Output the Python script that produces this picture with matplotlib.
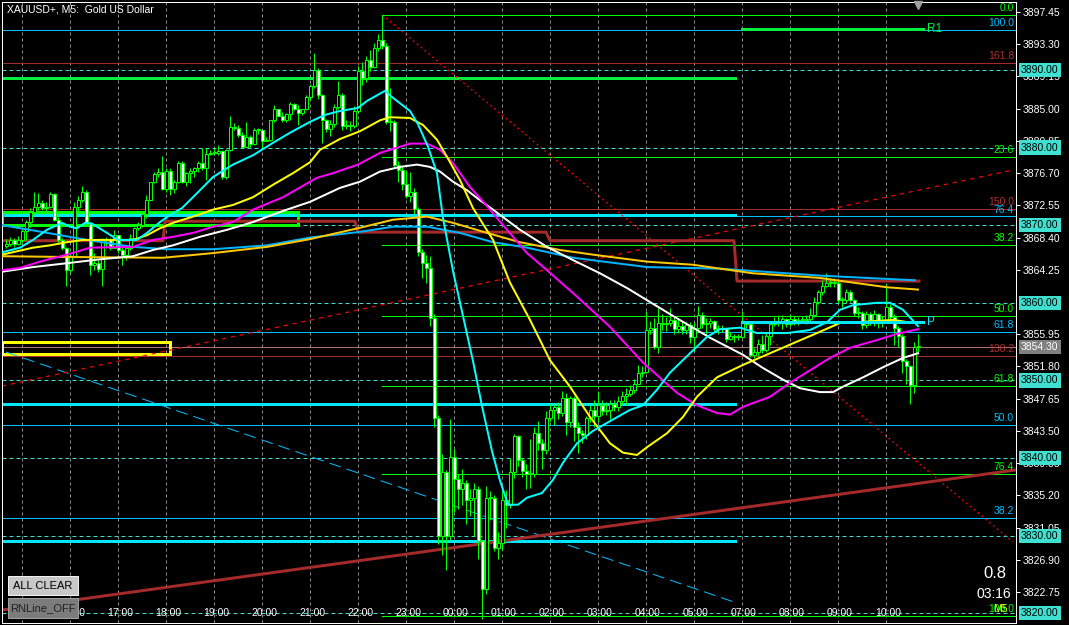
import matplotlib
matplotlib.use("Agg")
import matplotlib.pyplot as plt
import matplotlib.transforms as mtransforms
from matplotlib.patches import Rectangle

plt.rcParams["font.family"] = ["Liberation Sans", "DejaVu Sans"]

# ---- candles (M5), bar 0 = 15:00, first bar = -4 ----
first_bar = -4
first_open = 3867.3
closes = [
    3867.6, 3868.1, 3867.6, 3868.1,
    3869.2, 3870.4, 3871.7, 3872.4, 3872.9, 3872.2, 3872.4, 3874.0, 3870.7, 3868.1,
    3867.0, 3864.2, 3865.9, 3872.4, 3873.3, 3874.3, 3870.2, 3864.9, 3865.1, 3864.3,
    3868.1, 3868.2, 3867.1, 3868.7, 3866.8, 3866.2, 3867.1, 3868.4, 3869.6, 3870.0,
    3871.4, 3873.2, 3875.5, 3876.6, 3876.9, 3874.6, 3877.0, 3874.6, 3875.6, 3878.0,
    3875.6, 3876.7, 3877.0, 3877.4, 3878.0, 3877.4, 3879.2, 3879.3, 3879.3, 3879.5,
    3876.2, 3879.7, 3882.6, 3882.5, 3881.6, 3880.1, 3881.3, 3880.4, 3882.3, 3882.3,
    3880.8, 3881.0, 3883.5, 3884.9, 3884.1, 3883.6, 3884.3, 3885.6, 3885.0, 3884.4,
    3884.9, 3886.5, 3887.9, 3890.0, 3886.7, 3883.5, 3882.4, 3883.0, 3885.2, 3886.7,
    3882.8, 3882.9, 3882.8, 3884.7, 3889.8, 3888.9, 3891.3, 3890.4, 3892.8, 3893.9,
    3893.1, 3883.3, 3883.3, 3877.7, 3877.1, 3875.3, 3873.8, 3874.3, 3872.1, 3866.6,
    3865.1, 3864.5, 3858.1, 3845.2, 3830.0, 3838.2, 3830.0, 3840.2, 3837.3, 3836.0,
    3836.8, 3834.6, 3834.8, 3836.0, 3829.3, 3823.2, 3834.8, 3834.9, 3828.4, 3829.1,
    3834.6, 3834.0, 3838.2, 3842.8, 3839.8, 3838.3, 3838.0, 3838.0, 3843.2, 3841.9,
    3841.0, 3845.1, 3846.2, 3846.6, 3845.8, 3847.7, 3844.7, 3847.7, 3844.0, 3843.2,
    3843.0, 3845.1, 3846.2, 3845.4, 3846.8, 3846.0, 3846.2, 3847.0, 3846.6, 3847.4,
    3848.0, 3848.3, 3848.8, 3849.6, 3850.9, 3851.1, 3856.5, 3856.7, 3854.3, 3857.4,
    3857.3, 3857.4, 3857.8, 3856.6, 3857.0, 3856.5, 3857.1, 3855.6, 3856.8, 3858.4,
    3857.3, 3857.4, 3857.6, 3856.6, 3856.6, 3856.7, 3855.4, 3855.7, 3855.6, 3855.6,
    3857.4, 3857.3, 3853.3, 3853.6, 3854.7, 3853.9, 3855.7, 3857.3, 3857.7, 3857.4,
    3857.9, 3857.3, 3857.9, 3857.7, 3857.8, 3857.8, 3857.9, 3858.4, 3860.1, 3861.4,
    3862.2, 3862.6, 3862.5, 3862.6, 3860.4, 3860.3, 3861.4, 3860.4, 3858.7, 3858.7,
    3857.1, 3858.6, 3857.8, 3858.6, 3857.4, 3857.8, 3859.5, 3858.2, 3856.8, 3855.7,
    3852.5, 3851.8, 3849.4, 3854.3, 3854.3,
]
highs = [
    3868.2, 3868.5, 3868.4, 3868.6,
    3869.6, 3870.7, 3872.2, 3874.3, 3874.1, 3873.2, 3873.0, 3874.3, 3874.1, 3871.1,
    3868.3, 3867.2, 3866.4, 3873.0, 3873.7, 3875.0, 3874.5, 3870.4, 3866.4, 3865.5,
    3868.3, 3868.5, 3868.3, 3869.4, 3867.9, 3867.2, 3867.4, 3868.9, 3869.8, 3870.4,
    3871.7, 3873.9, 3875.6, 3876.9, 3877.3, 3878.9, 3877.3, 3877.3, 3875.8, 3878.2,
    3878.3, 3876.9, 3877.3, 3877.5, 3878.2, 3879.9, 3879.9, 3879.7, 3879.9, 3880.3,
    3879.7, 3879.8, 3884.1, 3883.1, 3882.9, 3882.0, 3883.3, 3881.6, 3882.5, 3882.5,
    3882.0, 3881.4, 3883.6, 3885.5, 3885.0, 3884.6, 3884.4, 3885.9, 3885.7, 3885.5,
    3885.0, 3886.8, 3888.2, 3892.2, 3890.3, 3886.9, 3883.7, 3883.6, 3885.6, 3888.6,
    3887.0, 3883.5, 3883.4, 3885.3, 3890.5, 3891.0, 3891.8, 3892.5, 3893.4, 3894.6,
    3897.1, 3893.4, 3887.6, 3883.6, 3878.3, 3877.6, 3877.0, 3876.8, 3874.8, 3872.4,
    3866.9, 3866.2, 3866.0, 3858.5, 3845.5, 3840.5, 3838.5, 3845.0, 3841.2, 3838.0,
    3838.6, 3837.2, 3836.0, 3836.8, 3836.4, 3829.5, 3836.4, 3835.8, 3835.2, 3830.5,
    3835.8, 3835.9, 3840.0, 3843.1, 3843.0, 3840.0, 3839.2, 3842.5, 3844.0, 3844.8,
    3842.4, 3846.0, 3847.0, 3847.0, 3847.2, 3848.7, 3848.4, 3848.0, 3848.0, 3844.6,
    3843.6, 3845.4, 3846.8, 3847.5, 3848.6, 3847.5, 3847.2, 3847.5, 3847.5, 3848.0,
    3848.6, 3849.0, 3849.4, 3850.2, 3852.0, 3851.9, 3858.9, 3857.6, 3858.0, 3859.3,
    3858.6, 3858.2, 3859.3, 3858.3, 3857.8, 3857.6, 3857.5, 3857.5, 3857.5, 3859.6,
    3858.8, 3858.0, 3858.0, 3857.8, 3857.2, 3857.2, 3856.8, 3856.2, 3856.0, 3856.0,
    3858.9, 3857.6, 3857.5, 3854.2, 3855.3, 3855.8, 3856.2, 3857.6, 3858.2, 3858.4,
    3858.4, 3858.0, 3858.5, 3858.3, 3858.2, 3858.3, 3858.4, 3859.3, 3860.7, 3861.7,
    3863.0, 3863.8, 3863.2, 3863.2, 3862.8, 3860.8, 3861.8, 3861.6, 3860.5, 3859.4,
    3859.0, 3859.0, 3858.8, 3859.1, 3858.7, 3858.3, 3862.6, 3859.8, 3858.5, 3857.0,
    3856.0, 3852.7, 3852.0, 3855.0, 3856.0,
]
lows = [
    3867.0, 3867.3, 3867.2, 3867.5,
    3867.8, 3868.1, 3869.8, 3871.5, 3872.0, 3871.9, 3871.8, 3872.2, 3870.5, 3867.6,
    3866.8, 3862.1, 3863.8, 3869.0, 3871.7, 3873.0, 3870.0, 3863.6, 3864.2, 3864.0,
    3862.1, 3867.0, 3866.8, 3867.2, 3866.4, 3864.9, 3865.5, 3866.8, 3868.1, 3869.4,
    3869.8, 3870.9, 3873.2, 3875.4, 3876.2, 3874.5, 3874.3, 3873.9, 3874.1, 3875.4,
    3875.4, 3875.0, 3875.4, 3876.2, 3876.9, 3877.1, 3875.8, 3879.0, 3879.0, 3879.0,
    3876.0, 3876.0, 3879.6, 3882.2, 3881.4, 3879.9, 3880.1, 3880.1, 3880.3, 3881.8,
    3879.9, 3880.8, 3880.8, 3883.3, 3884.0, 3883.3, 3883.3, 3883.5, 3884.8, 3882.9,
    3884.2, 3884.8, 3886.1, 3887.6, 3886.2, 3880.6, 3882.0, 3881.5, 3882.6, 3885.0,
    3882.2, 3882.4, 3882.1, 3882.5, 3884.4, 3888.0, 3888.5, 3889.9, 3890.2, 3892.4,
    3892.7, 3883.0, 3882.1, 3877.4, 3875.5, 3874.5, 3873.5, 3873.0, 3871.5, 3866.0,
    3863.2, 3862.5, 3857.0, 3844.0, 3828.9, 3827.5, 3825.6, 3829.5, 3833.0, 3833.5,
    3834.0, 3831.5, 3832.5, 3830.0, 3827.0, 3819.3, 3822.5, 3832.0, 3828.0, 3827.0,
    3828.2, 3831.0, 3833.6, 3837.4, 3839.0, 3837.6, 3836.0, 3836.2, 3837.5, 3841.0,
    3838.6, 3840.5, 3844.8, 3844.2, 3845.0, 3845.4, 3843.0, 3844.0, 3842.2, 3840.6,
    3842.0, 3842.5, 3844.6, 3844.0, 3844.6, 3845.5, 3845.5, 3845.0, 3846.0, 3846.0,
    3847.0, 3846.8, 3848.0, 3848.4, 3849.5, 3850.4, 3851.0, 3856.0, 3854.0, 3853.5,
    3856.5, 3856.4, 3857.0, 3856.0, 3856.1, 3856.0, 3856.0, 3854.8, 3853.8, 3856.2,
    3856.8, 3855.6, 3856.8, 3856.2, 3856.0, 3856.2, 3855.0, 3855.2, 3855.0, 3855.2,
    3855.5, 3856.8, 3853.0, 3852.9, 3853.2, 3853.5, 3853.6, 3854.5, 3857.0, 3857.0,
    3856.6, 3856.9, 3857.0, 3857.2, 3857.2, 3857.4, 3857.3, 3857.6, 3858.2, 3859.8,
    3861.0, 3862.0, 3862.0, 3862.0, 3860.0, 3859.5, 3860.0, 3860.1, 3858.3, 3858.1,
    3856.6, 3856.8, 3857.2, 3857.0, 3856.8, 3856.9, 3857.6, 3857.8, 3854.5, 3854.3,
    3851.0, 3849.6, 3847.0, 3848.4, 3853.6,
]

# ---- moving averages (bar position, price) ----
cyan_bar = [-5, -0.5, 2.75, 6.25, 10, 12, 13.75, 15.75, 17.5, 21.25, 24, 28.75, 31.25, 34.5, 37, 40,
            44.5, 47.75, 52.75, 57.75, 62.75, 67, 72, 75.75, 79.5, 84, 86.25, 90.75, 92.5, 94.5, 97,
            99, 101.5, 103.75, 105.25, 107.75, 110.25, 112.75, 115, 117.5, 119.5, 121.5, 124, 126.25,
            130, 132.75, 135.25, 138.75, 142.75, 147.5, 152, 155.25, 158.75, 162, 167, 171.25, 174.5,
            179.5, 183.75, 191.25, 197, 201.25, 204.5, 207.75, 213.75, 217, 220.25, 224]
cyan_val = [3866.5, 3867.1, 3868.1, 3869.4, 3870.3, 3869.8, 3869.6, 3870.3, 3870.2, 3869.0, 3868.1,
            3868.1, 3869.0, 3870.4, 3871.3, 3872.2, 3874.5, 3876.2, 3877.8, 3879.0, 3880.6, 3881.9,
            3883.3, 3884.2, 3884.7, 3885.1, 3886.0, 3887.3, 3886.5, 3885.7, 3884.7, 3883.0, 3880.1,
            3876.7, 3870.9, 3864.1, 3858.3, 3852.5, 3846.7, 3840.9, 3837.1, 3834.0, 3834.0, 3834.9,
            3835.5, 3837.2, 3839.4, 3841.9, 3843.5, 3844.9, 3846.2, 3846.8, 3848.8, 3851.0, 3853.5,
            3855.6, 3856.6, 3856.8, 3856.1, 3856.1, 3856.5, 3857.5, 3859.1, 3859.7, 3860.0, 3860.0,
            3859.1, 3857.0]
yellow_bar = [-5, 2.75, 7, 11.25, 15.25, 27.75, 31.25, 34.5, 37.75, 42.75, 47.75, 52.75, 57.75,
              62.75, 67.75, 72, 74.5, 79.5, 84.5, 89.5, 92, 97, 100.25, 103.75, 106.25, 109.5,
              112.75, 117.75, 122, 127, 132, 137, 142, 147, 150.25, 153.75, 156.25, 161.25, 165.25,
              168.75, 173.75, 180.25, 187, 193.75, 198.75, 204.5, 208.75, 217.75, 222.75]
yellow_val = [3866.2, 3867.1, 3867.4, 3867.8, 3868.1, 3868.1, 3868.7, 3869.6, 3870.3, 3871.1,
              3872.0, 3872.6, 3873.6, 3875.2, 3876.7, 3878.1, 3879.7, 3881.1, 3882.1, 3883.5,
              3883.9, 3883.8, 3882.9, 3881.0, 3878.8, 3875.8, 3872.2, 3868.1, 3862.6, 3857.8,
              3852.6, 3849.2, 3845.3, 3841.9, 3840.7, 3840.4, 3841.4, 3843.2, 3845.3, 3847.9,
              3850.4, 3852.0, 3853.5, 3855.0, 3856.1, 3857.4, 3857.5, 3857.8, 3857.4]
magenta_bar = [-5, -0.5, 4.5, 11.25, 17, 27.75, 32.75, 37.75, 42.75, 47.75, 52.75, 57.75, 65.25,
               73.75, 77.75, 84, 89.5, 94.5, 97, 101.25, 104.5, 107.75, 112, 115, 121.25, 126.25,
               131.25, 138.75, 147, 155.25, 163.75, 168.75, 173.75, 177, 180.25, 187, 192, 197,
               202, 207, 213.75, 218.75, 224]
magenta_val = [3864.2, 3864.5, 3865.3, 3866.2, 3867.1, 3867.2, 3868.1, 3868.5, 3869.0, 3869.8,
               3870.4, 3872.0, 3873.6, 3876.1, 3876.7, 3877.8, 3879.3, 3880.1, 3880.5, 3880.5,
               3879.7, 3878.0, 3874.9, 3873.2, 3869.4, 3866.4, 3864.2, 3860.8, 3856.9, 3852.3,
               3848.4, 3846.8, 3845.8, 3845.6, 3846.6, 3847.9, 3849.7, 3851.3, 3852.9, 3854.2,
               3855.2, 3856.0, 3856.6]
white_bar = [-5, 2.75, 11.25, 19.5, 27.75, 32.75, 37.75, 44.5, 51.25, 57.75, 64.5, 72, 79.5, 84.5,
             89.5, 94.5, 98.75, 102, 104.5, 107.75, 111.25, 114.5, 117.75, 124.5, 131.25, 137.75,
             144.5, 151.25, 157, 163.75, 172, 180.25, 185.25, 190.25, 194.5, 199.5, 202.75, 205.25,
             210.25, 215.25, 220.25, 224]
white_val = [3864.0, 3864.6, 3865.1, 3865.6, 3866.0, 3866.8, 3867.4, 3868.5, 3869.4, 3870.4, 3871.7,
             3873.0, 3874.8, 3875.6, 3876.9, 3877.5, 3877.8, 3877.5, 3876.9, 3875.6, 3874.5, 3873.2,
             3872.0, 3869.4, 3867.2, 3865.5, 3863.8, 3861.9, 3860.1, 3858.0, 3855.5, 3853.3, 3851.6,
             3850.1, 3849.0, 3848.5, 3848.5, 3849.2, 3850.4, 3851.7, 3852.9, 3853.5]
gold_bar = [-5, 11.25, 35.25, 47.75, 61.25, 72, 84, 92.75, 101.25, 107.75, 116.25, 124.5, 134.5,
            142.75, 156.25, 167.75, 174.5, 182.75, 199.5, 207.75, 216.25, 224]
gold_val = [3866.0, 3865.9, 3865.8, 3866.4, 3867.2, 3868.2, 3869.6, 3870.7, 3871.1, 3870.3, 3869.0,
            3867.8, 3866.8, 3866.2, 3865.3, 3864.9, 3864.4, 3863.8, 3863.2, 3862.6, 3862.0, 3861.7]
blue_bar = [-5, 5.25, 16.25, 27.75, 36.25, 47.75, 61.25, 72, 84, 92.75, 101.25, 109.5, 117.75,
            126.25, 137.75, 156.25, 174.5, 182.75, 199.5, 223.25]
blue_val = [3870.0, 3869.1, 3868.1, 3867.2, 3866.9, 3866.9, 3867.4, 3868.4, 3869.1, 3869.8, 3869.8,
            3869.0, 3867.8, 3867.1, 3865.8, 3864.6, 3864.4, 3864.1, 3863.5, 3862.9]

# ---- chart objects ----
step_bar = [-5, 35.25, 35.75, 83.25, 84, 131, 132, 178, 178.75, 224.25]
step_val = [3868.0, 3868.0, 3870.5, 3870.5, 3869.1, 3869.1, 3868.0, 3868.0, 3862.8, 3862.8]

fib_green_names = ["0.0", "23.6", "38.2", "50.0", "61.8", "76.4", "100.0"]
fib_green_prices = [3897.06, 3878.79, 3867.49, 3858.36, 3849.23, 3837.93, 3819.66]
fib_blue_names = ["100.0", "76.4", "61.8", "50.0", "38.2"]
fib_blue_prices = [3895.13, 3871.12, 3856.27, 3844.27, 3832.26]
fib_brown_names = ["161.8", "150.0", "138.2"]
fib_brown_prices = [3890.93, 3872.08, 3853.15]

round_levels = [3890, 3880, 3870, 3860, 3850, 3840, 3830, 3820]
prev_cyan_levels = [3871.31, 3846.96, 3829.32]
prev_green_level = 3888.95
r1_level = 3895.26
p_level = 3857.53
bid = 3854.30

axis_ticks = [3897.45, 3893.30, 3889.15, 3885.00, 3880.85, 3876.70, 3872.55, 3868.40, 3864.25,
              3855.95, 3851.80, 3847.65, 3843.50, 3839.35, 3835.20, 3831.05, 3826.90, 3822.75]
time_bars = [0, 12, 24, 36, 48, 60, 72, 84, 96, 108, 120, 132, 144, 156, 168, 180, 192, 204, 216]
time_labels = ["15:00", "16:00", "17:00", "18:00", "19:00", "20:00", "21:00", "22:00", "23:00",
               "00:00", "01:00", "02:00", "03:00", "04:00", "05:00", "07:00", "08:00", "09:00",
               "10:00"]

PX = 0.72  # 1 px in points at dpi 100
W, H = 1069, 625

fig = plt.figure(figsize=(W / 100, H / 100), dpi=100, facecolor="black")
ax = fig.add_axes([2 / W, 2 / H, 1014 / W, 621 / H])
ax.set_facecolor("black")
ax.set_xlim(-5, 248.5)
ax.set_ylim(3818.76, 3898.74)
for s in ax.spines.values():
    s.set_color("white")
    s.set_linewidth(PX)
ax.set_xticks([])

# grid + round number lines
for b in time_bars:
    ax.axvline(b, color="#8c8c8c", lw=PX, ls=(0, (3, 3)), zorder=1)
for lv in round_levels:
    ax.axhline(lv, color="#40E0D0", lw=PX, ls=(0, (4, 3)), zorder=1)

# fib levels
for p in fib_blue_prices:
    ax.axhline(p, color="#00BFFF", lw=PX, zorder=2)
for p in fib_brown_prices:
    ax.axhline(p, color="#A52A2A", lw=PX, zorder=2)
for p in fib_green_prices:
    ax.plot([90, 248.5], [p, p], color="#00FF00", lw=PX, zorder=2)
ax.axhline(bid, color="#B07070", lw=PX, zorder=2)

# previous day lines
ax.plot([-5, 178.25], [prev_green_level] * 2, color="#00F040", lw=3 * PX, zorder=2)
for p in prev_cyan_levels:
    ax.plot([-5, 178.25], [p, p], color="#00E8F8", lw=3 * PX, zorder=2)
ax.plot([180, 225.25], [r1_level] * 2, color="#00F040", lw=3 * PX, zorder=5)
ax.plot([180, 225.25], [p_level] * 2, color="#00E8F8", lw=3 * PX, zorder=5)
ax.text(226.2, r1_level, "R1", color="#00F040", fontsize=8.5, va="center", ha="left", zorder=6)
ax.text(226.2, p_level, "P", color="#00E8F8", fontsize=8.5, va="center", ha="left", zorder=6)

# rectangles
ax.add_patch(Rectangle((-5, 3870.02), 74, 1.67, fill=False, ec="#00FF00", lw=3 * PX, zorder=2))
ax.add_patch(Rectangle((-5, 3853.4), 42, 1.55, fill=False, ec="#FFFF00", lw=3 * PX, zorder=2))

# trend lines
ax.plot([-4, 178.75], [3853.66, 3821.33], color="#00BFFF", lw=PX, ls=(0, (12, 6)), zorder=2)
ax.plot([91, 247.75], [3896.68, 3829.19], color="#FF0000", lw=1.4 * PX, ls=(0, (1.2, 2.4)), zorder=2)
ax.plot([-5, 247.75], [3849.28, 3877.10], color="#FF0000", lw=1.2 * PX, ls=(0, (3.5, 4)), zorder=2)
ax.plot([-5, 248.25], [3820.43, 3838.46], color="#A52A2A", lw=3 * PX, zorder=2)
ax.plot(step_bar, step_val, color="#A52A2A", lw=3 * PX, zorder=2)

# candles
bars = list(range(first_bar, first_bar + len(closes)))
opens = [first_open] + closes[:-1]
for b, o, c, h, l in zip(bars, opens, closes, highs, lows):
    lo, hi = min(o, c), max(o, c)
    ax.vlines(b, min(l, lo), max(h, hi), color="#00FF00", lw=PX, zorder=3)
    fc = "black" if c >= o else "white"
    ax.add_patch(Rectangle((b - 0.375, lo), 0.75, max(hi - lo, 0.13), fc=fc,
                           ec="#00FF00", lw=PX, zorder=3.1))

# moving averages
ax.plot(blue_bar, blue_val, color="#00B4FF", lw=2 * PX, zorder=4)
ax.plot(gold_bar, gold_val, color="#FFC800", lw=2 * PX, zorder=4)
ax.plot(white_bar, white_val, color="white", lw=2 * PX, zorder=4)
ax.plot(magenta_bar, magenta_val, color="#FF00FF", lw=2 * PX, zorder=4)
ax.plot(yellow_bar, yellow_val, color="#FFFF00", lw=2 * PX, zorder=4)
ax.plot(cyan_bar, cyan_val, color="#00FFFF", lw=2 * PX, zorder=4)

# fib labels
def fib_labels(names, prices, color):
    for n, p in zip(names, prices):
        ax.text(248, p + 0.25, n, color=color, fontsize=7.5, ha="right", va="bottom", zorder=6)

fib_labels(fib_green_names, fib_green_prices, "#00FF00")
fib_labels(fib_blue_names, fib_blue_prices, "#00BFFF")
fib_labels(fib_brown_names, fib_brown_prices, "#B03030")
ax.text(246.5, 3819.66 + 0.25, "M5", color="#FFFF00", fontsize=7.5, ha="right", va="bottom", zorder=6)

# chart-shift marker
ax.plot([224], [3898.3], marker="v", ms=6, color="#A0A0A0", zorder=6, clip_on=False)

# right price scale
ax.yaxis.tick_right()
ax.set_yticks(axis_ticks)
ax.set_yticklabels([f"{t:.2f}" for t in axis_ticks])
ax.tick_params(axis="y", colors="white", labelcolor="white", length=3, width=PX,
               labelsize=7.5, pad=1.5)
trans = mtransforms.blended_transform_factory(ax.transAxes, ax.transData)
for lv in round_levels:
    ax.text(1 + 5 / 1014, lv, f"{lv:.2f}", transform=trans, color="black", fontsize=7.5,
            ha="left", va="center", zorder=10, clip_on=False,
            bbox=dict(boxstyle="square,pad=0.2", fc="#40E0D0", ec="none"))
ax.text(1 + 5 / 1014, bid, f"{bid:.2f}", transform=trans, color="white", fontsize=7.5,
        ha="left", va="center", zorder=10, clip_on=False,
        bbox=dict(boxstyle="square,pad=0.2", fc="#808080", ec="none"))

# buttons
fig.patches.append(Rectangle((8 / W, 1 - 595 / H), 70 / W, 19 / H, transform=fig.transFigure,
                             fc="#C8C8C8", ec="#F0F0F0", lw=PX, zorder=20))
fig.text(43 / W, 1 - 586 / H, "ALL CLEAR", color="black", fontsize=8, ha="center", va="center",
         zorder=21)
fig.patches.append(Rectangle((8 / W, 1 - 618 / H), 70 / W, 20 / H, transform=fig.transFigure,
                             fc="#7C7C7C", ec="#A0A0A0", lw=PX, zorder=20))
fig.text(43 / W, 1 - 608 / H, "RNLine_OFF", color="#202020", fontsize=8, ha="center",
         va="center", zorder=21)

# time labels
for b, t in zip(time_bars, time_labels):
    ax.text(b + 0.5, 3820.05, t, color="white", fontsize=7.5, ha="center", va="center", zorder=30)

# texts
fig.text(7 / W, 1 - 9 / H, "XAUUSD+, M5:  Gold US Dollar", color="white", fontsize=7.5,
         va="center", ha="left")
fig.text(1006 / W, 1 - 574 / H, "0.8", color="white", fontsize=12, ha="right", va="center")
fig.text(1011 / W, 1 - 594 / H, "03:16", color="white", fontsize=10, ha="right", va="center")

fig.savefig("out.png", dpi=100, facecolor="black")
